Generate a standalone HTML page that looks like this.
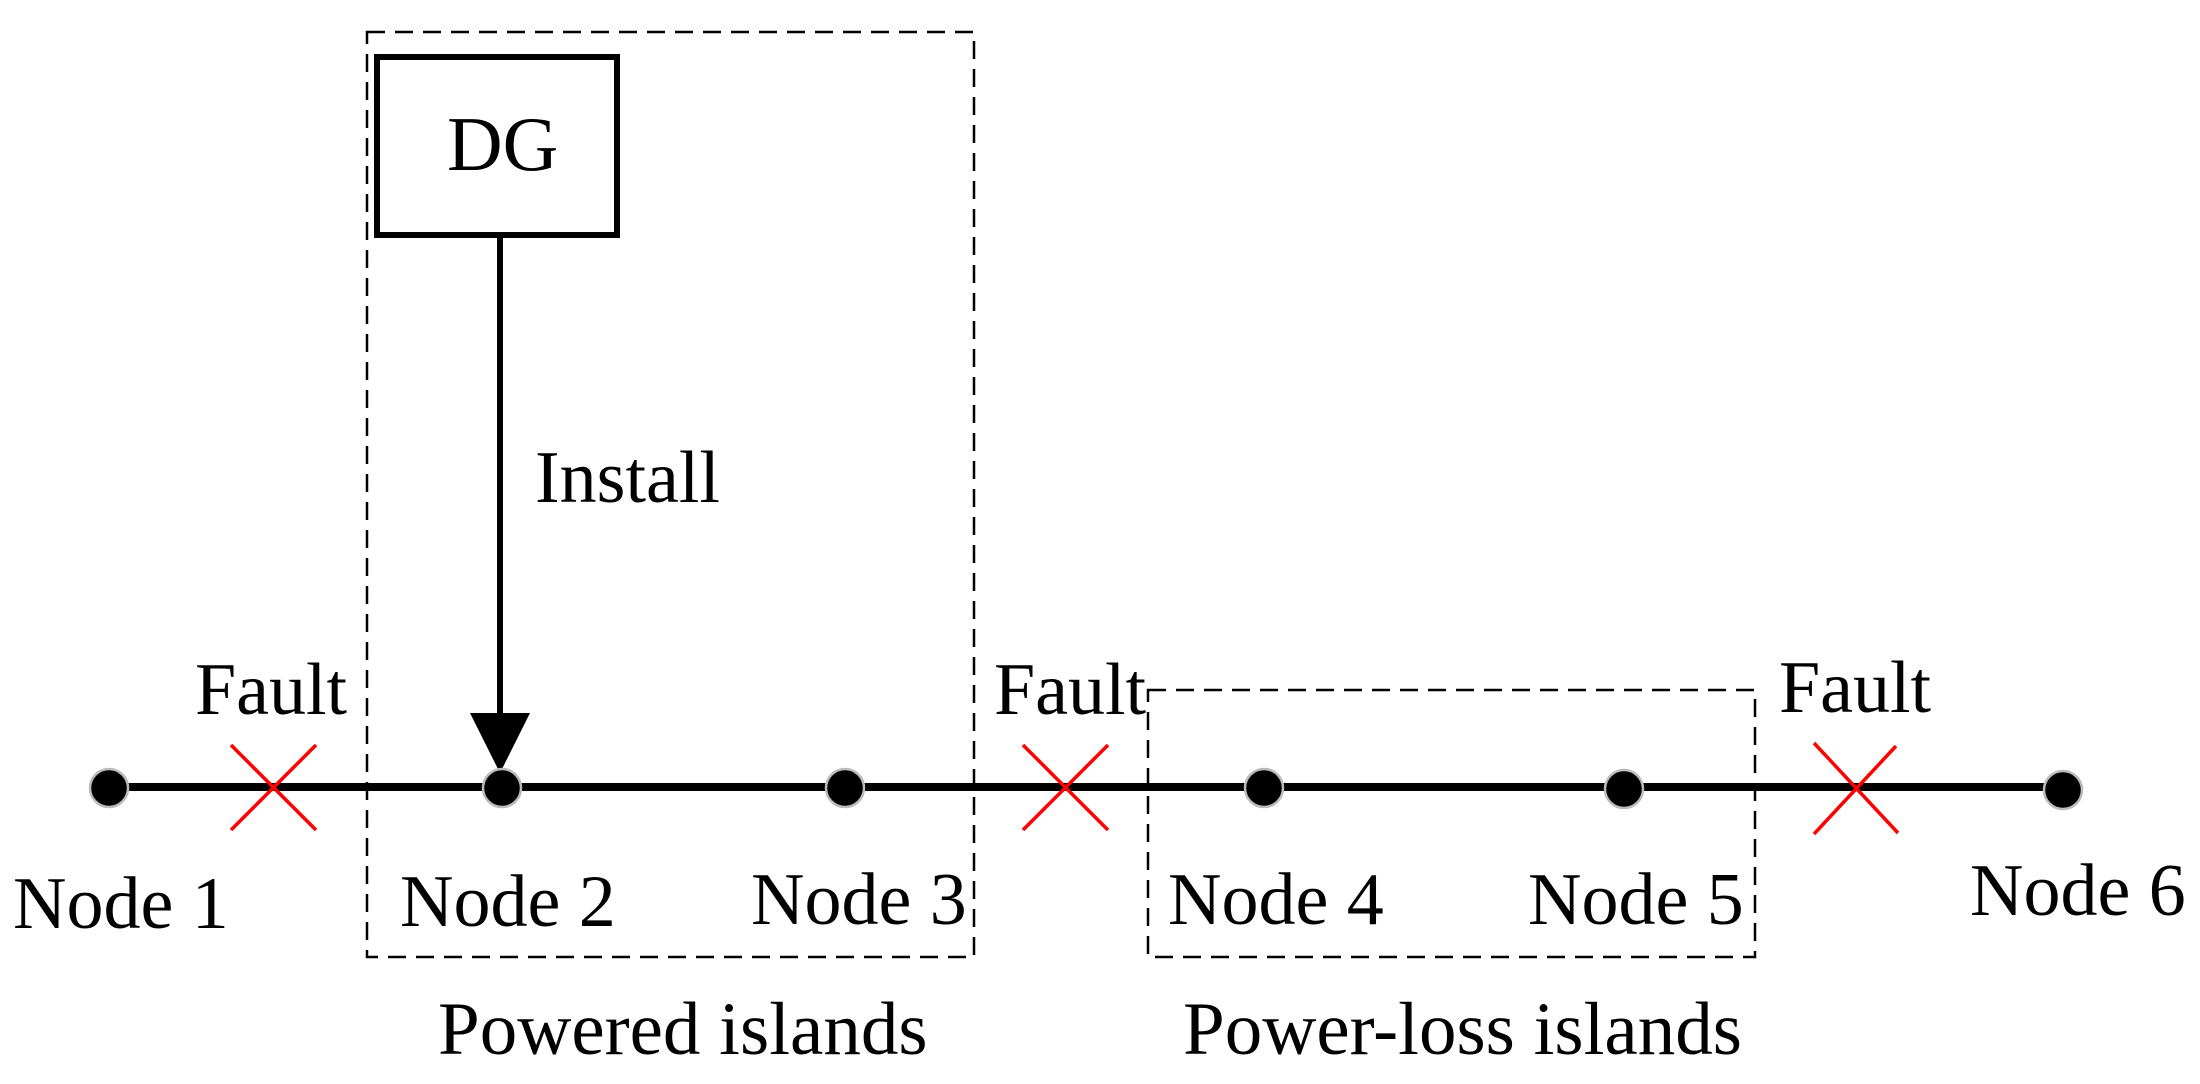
<!DOCTYPE html>
<html><head><meta charset="utf-8"><style>html,body{margin:0;padding:0;background:#fff}svg{display:block}</style></head>
<body>
<svg width="2200" height="1084" viewBox="0 0 2200 1084" xmlns="http://www.w3.org/2000/svg" font-family="'Liberation Serif', serif" font-size="74">
<rect width="2200" height="1084" fill="#fff"/>
<g fill="none" stroke="#000" stroke-width="2.5" stroke-dasharray="18,10">
<rect x="367" y="32" width="607" height="925"/>
<rect x="1148" y="690" width="607" height="267"/>
</g>
<rect x="377" y="57" width="240" height="178" fill="none" stroke="#000" stroke-width="6"/>
<text x="447" y="170" font-size="77">DG</text>
<line x1="500" y1="235" x2="500" y2="720" stroke="#000" stroke-width="6"/>
<polygon points="470,713 530,713 500,773" fill="#000"/>
<text x="535" y="502">Install</text>
<line x1="108" y1="787" x2="2062" y2="787" stroke="#000" stroke-width="8"/>
<g fill="#000" stroke="#bbb" stroke-width="2.5">
<circle cx="109" cy="788" r="19"/>
<circle cx="502" cy="788" r="19"/>
<circle cx="845" cy="788" r="19"/>
<circle cx="1264" cy="788" r="19"/>
<circle cx="1624" cy="789" r="19"/>
<circle cx="2063" cy="790" r="19"/>
</g>
<g stroke="#f00" stroke-width="3.5">
<line x1="231" y1="745" x2="316" y2="830"/><line x1="316" y1="745" x2="231" y2="830"/>
<line x1="1023" y1="745" x2="1108" y2="830"/><line x1="1108" y1="745" x2="1023" y2="830"/>
<line x1="1814" y1="743" x2="1898" y2="833"/><line x1="1896" y1="746" x2="1814" y2="834"/>
</g>
<text x="195" y="714">Fault</text>
<text x="994" y="714">Fault</text>
<text x="1779" y="712">Fault</text>
<text x="13" y="928">Node 1</text>
<text x="400" y="926">Node 2</text>
<text x="751" y="924">Node 3</text>
<text x="1168" y="924">Node 4</text>
<text x="1528" y="924">Node 5</text>
<text x="1970" y="915">Node 6</text>
<text x="438" y="1054" font-size="75">Powered islands</text>
<text x="1183" y="1054" font-size="75">Power-loss islands</text>
</svg>
</body></html>
